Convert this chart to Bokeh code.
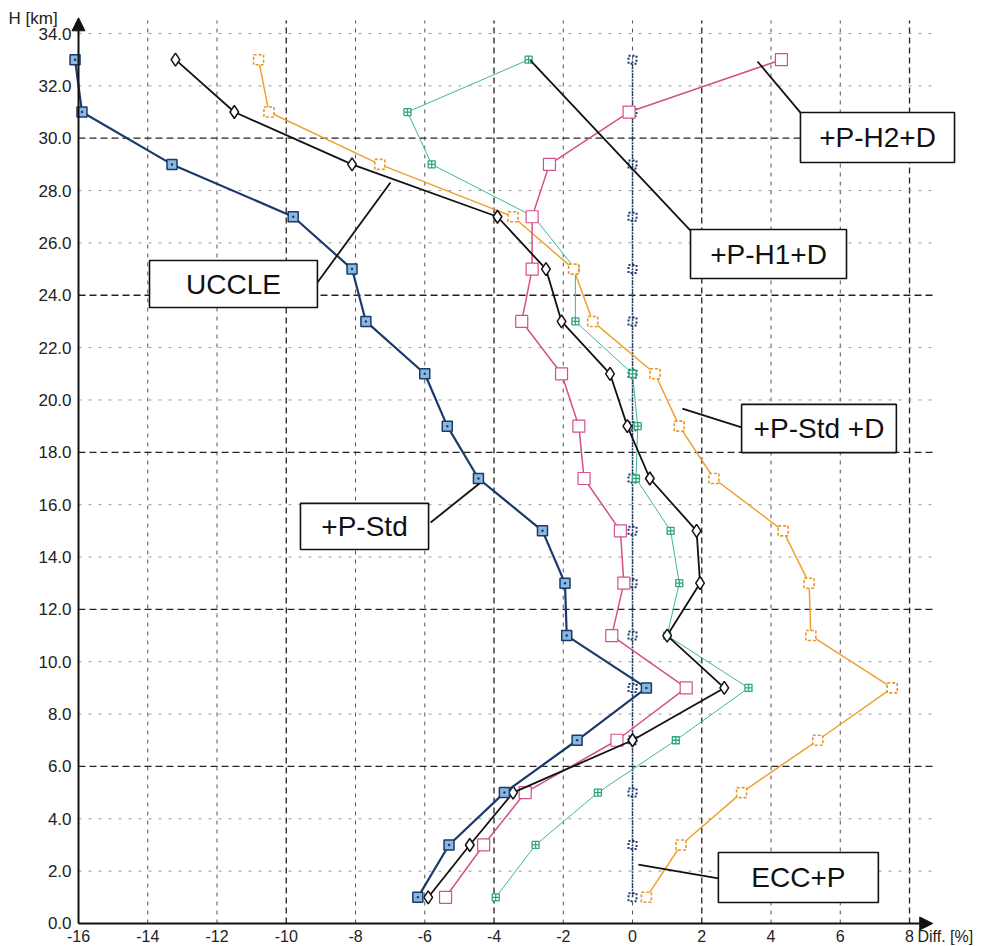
from bokeh.plotting import figure
from bokeh.models import (Range1d, LinearAxis, FixedTicker, PrintfTickFormatter,
                          Arrow, NormalHead, Label)
from bokeh.core.properties import value
from bokeh.embed import file_html
from bokeh.resources import INLINE

FONT = "Liberation Sans"

# ---- data: ozone difference profiles, altitude in km vs difference in % ----
heights = [1, 3, 5, 7, 9, 11, 13, 15, 17, 19, 21, 23, 25, 27, 29, 31, 33]

ecc_p = [0.0, 0.0, 0.0, 0.0, 0.0, 0.0, 0.0, 0.0, 0.0, 0.0, 0.0, 0.0, 0.0, 0.0, 0.0, 0.0, 0.0]
uccle = [-3.95, -2.8, -1.0, 1.25, 3.35, 1.0, 1.35, 1.1, 0.1, 0.15, 0.0, -1.65, -1.65, -2.85, -5.8, -6.5, -3.0]
p_std_d = [0.4, 1.4, 3.15, 5.35, 7.5, 5.15, 5.1, 4.35, 2.35, 1.35, 0.65, -1.15, -1.7, -3.45, -7.3, -10.5, -10.8]
p_h2_d = [-5.4, -4.3, -3.1, -0.45, 1.55, -0.6, -0.25, -0.35, -1.4, -1.55, -2.05, -3.2, -2.9, -2.9, -2.4, -0.1, 4.3]
p_h1_d = [-5.9, -4.7, -3.45, 0.0, 2.65, 1.0, 1.95, 1.85, 0.5, -0.15, -0.65, -2.05, -2.5, -3.9, -8.1, -11.5, -13.2]
p_std = [-6.2, -5.3, -3.7, -1.6, 0.4, -1.9, -1.95, -2.6, -4.45, -5.35, -6.0, -7.7, -8.1, -9.8, -13.3, -15.9, -16.1]

x_ticks = [-16, -14, -12, -10, -8, -6, -4, -2, 0, 2, 4, 6, 8]
y_ticks = [0, 2, 4, 6, 8, 10, 12, 14, 16, 18, 20, 22, 24, 26, 28, 30, 32, 34]
x_heavy = [-10, -4, 2, 8]
y_heavy = [6, 12, 18, 24, 30]

# callout boxes: label, box left/right/bottom/top, leader start and end
callout_text = ["+P-H2+D", "+P-H1+D", "UCCLE", "+P-Std", "+P-Std +D", "ECC+P"]
box_left = [4.85, 1.675, -13.95, -9.59, 3.15, 2.48]
box_right = [9.30, 6.18, -9.10, -5.89, 7.62, 7.10]
box_bottom = [29.07, 24.64, 23.53, 14.29, 17.99, 0.80]
box_top = [30.98, 26.51, 25.33, 16.05, 19.83, 2.71]
lead_x0 = [4.85, 1.675, -9.10, -5.83, 3.15, 2.48]
lead_y0 = [30.98, 26.47, 24.49, 15.32, 18.95, 1.72]
lead_x1 = [3.61, -2.95, -6.99, -4.42, 1.44, 0.17]
lead_y1 = [32.93, 32.97, 28.31, 16.81, 19.67, 2.25]

# ---- figure ----
p = figure(width=986, height=946, output_backend="svg", toolbar_location=None,
           x_range=Range1d(-18.253, 10.223), y_range=Range1d(-0.879, 35.261),
           x_axis_location=None, y_axis_location=None, min_border=0)
p.outline_line_color = None
p.xgrid.visible = False
p.ygrid.visible = False
p.background_fill_color = "white"

# dashed grid, every third line drawn heavier
x_light = [t for t in x_ticks if t not in x_heavy and t != -16]
y_light = [t for t in y_ticks if t not in y_heavy and t != 0]
GX0, GX1 = -16, 8.7
GY0, GY1 = 0, 34.5
p.segment(x0=x_light, x1=x_light, y0=[GY0] * len(x_light), y1=[GY1] * len(x_light),
          line_color="#555555", line_width=1, line_dash="4 5")
p.segment(x0=x_heavy, x1=x_heavy, y0=[GY0] * len(x_heavy), y1=[GY1] * len(x_heavy),
          line_color="#222222", line_width=1.3, line_dash="6 4")
p.segment(x0=[GX0] * len(y_light), x1=[GX1] * len(y_light), y0=y_light, y1=y_light,
          line_color="#999999", line_width=1, line_dash="3 7")
p.segment(x0=[GX0] * len(y_heavy), x1=[GX1] * len(y_heavy), y0=y_heavy, y1=y_heavy,
          line_color="#222222", line_width=1.3, line_dash="7 4")

# axes: tick labels from Bokeh axes pinned to the data origin
xaxis = LinearAxis(fixed_location=0, ticker=FixedTicker(ticks=x_ticks),
                   formatter=PrintfTickFormatter(format="%d"))
yaxis = LinearAxis(fixed_location=-16, ticker=FixedTicker(ticks=y_ticks),
                   formatter=PrintfTickFormatter(format="%.1f"))
for ax, standoff, size in ((xaxis, 1, "16px"), (yaxis, 1, "17px")):
    ax.axis_line_color = None
    ax.major_tick_line_color = None
    ax.minor_tick_line_color = None
    ax.major_label_text_font = FONT
    ax.major_label_text_font_size = size
    ax.major_label_text_color = "#222222"
    ax.major_label_standoff = standoff
p.add_layout(xaxis, "below")
p.add_layout(yaxis, "left")

p.add_layout(Arrow(x_start=-16, y_start=0, x_end=8.67, y_end=0, line_width=2,
                   line_color="#111111",
                   end=NormalHead(size=13, fill_color="#111111", line_color="#111111")))
p.add_layout(Arrow(x_start=-16, y_start=0, x_end=-16, y_end=34.6, line_width=2,
                   line_color="#111111",
                   end=NormalHead(size=13, fill_color="#111111", line_color="#111111")))

p.add_layout(Label(x=-18.02, y=34.2, text="H [km]", text_font=FONT,
                   text_font_size="17px", text_color="#222222", text_baseline="bottom"))
p.add_layout(Label(x=8.23, y=-0.5, text="Diff. [%]", text_font=FONT,
                   text_font_size="16px", text_color="#222222", text_baseline="middle"))

# ---- profiles ----
NAVY = "#1b3a6b"
p.line(ecc_p, heights, line_color=NAVY, line_width=1.6, line_dash="2 1")
p.scatter(ecc_p, heights, marker="square", size=8, line_color=NAVY, line_width=2,
          line_dash="2 2", fill_color=None)

p.line(uccle, heights, line_color="#3dbb8c", line_width=1)
p.scatter(uccle, heights, marker="square_cross", size=7, line_color="#2fa876",
          line_width=1.3, fill_color="white")

p.line(p_std_d, heights, line_color="#f0a030", line_width=1.5)
p.scatter(p_std_d, heights, marker="square", size=10, line_color="#e8962a",
          line_width=1.6, line_dash="3 2", fill_color="white")

p.line(p_h2_d, heights, line_color="#d4508c", line_width=1.5)
p.scatter(p_h2_d, heights, marker="square", size=12, line_color="#d4508c",
          line_width=1.2, fill_color="white")

p.line(p_h1_d, heights, line_color="#111111", line_width=1.8)
p.scatter(p_h1_d, heights, marker="diamond", size=13, line_color="#111111",
          line_width=1.5, fill_color="white")

p.line(p_std, heights, line_color=NAVY, line_width=2.2)
p.scatter(p_std, heights, marker="square_dot", size=10, line_color=NAVY,
          line_width=1.5, fill_color="#8bb8e0")

# ---- callouts ----
p.segment(x0=lead_x0, y0=lead_y0, x1=lead_x1, y1=lead_y1,
          line_color="#111111", line_width=1.8)
p.quad(left=box_left, right=box_right, bottom=box_bottom, top=box_top,
       fill_color="white", line_color="#111111", line_width=1.6)
cx = [(a + b) / 2 for a, b in zip(box_left, box_right)]
cy = [(a + b) / 2 for a, b in zip(box_bottom, box_top)]
p.text(x=cx, y=cy, text=callout_text, text_font=value(FONT), text_font_size="28px",
       text_align="center", text_baseline="middle", text_color="#111111")

open("out.html", "w").write(file_html(p, INLINE))
